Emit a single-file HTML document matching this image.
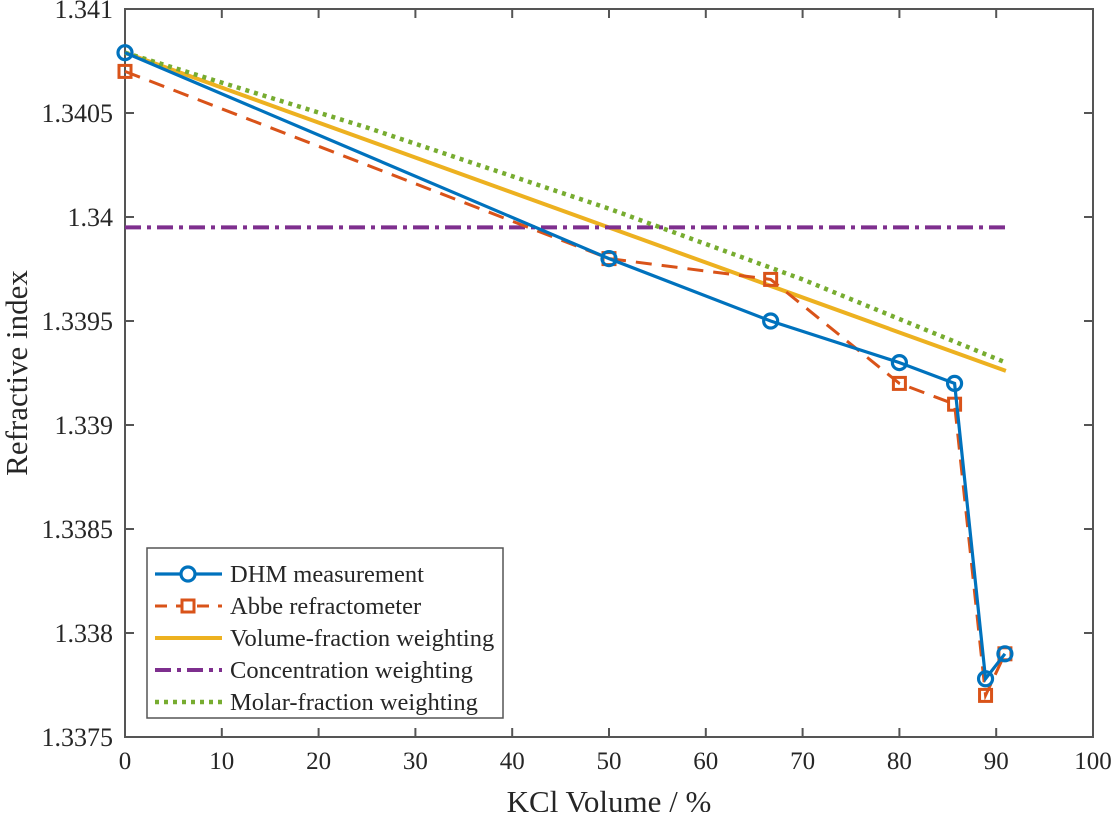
<!DOCTYPE html>
<html><head><meta charset="utf-8"><style>
body{margin:0;background:#fff;}
text{font-family:"Liberation Serif",serif;fill:#262626;}
</style></head><body>
<svg id="chart" width="1114" height="812">
<rect x="0" y="0" width="1114" height="812" fill="#fff"/>
<g id="grid"></g>
<g id="series"></g>
<g id="legend"></g>
</svg>
<script>
const xTicks=[0,10,20,30,40,50,60,70,80,90,100];
const yTicks=[1.3375,1.338,1.3385,1.339,1.3395,1.34,1.3405,1.341];
const yTickLabels=["1.3375","1.338","1.3385","1.339","1.3395","1.34","1.3405","1.341"];
const dhmX=[0,50,66.7,80,85.7,88.9,90.9];
const dhmY=[1.34079,1.3398,1.3395,1.3393,1.3392,1.33778,1.3379];
const abbeX=[0,50,66.7,80,85.7,88.9,90.9];
const abbeY=[1.3407,1.3398,1.3397,1.3392,1.3391,1.3377,1.3379];
const volX=[0,91];
const volY=[1.34079,1.33926];
const concX=[0,91];
const concY=[1.33995,1.33995];
const molX=[0,25,50,70,91];
const molY=[1.34079,1.34043,1.34004,1.3397,1.3393];

const L=125,R=1093,T=9,B=737;
const xs=v=>L+(v-0)/100*(R-L);
const ys=v=>B-(v-1.3375)/0.0035*(B-T);
const NS="http://www.w3.org/2000/svg";
function mk(tag,attrs,parent){const e=document.createElementNS(NS,tag);for(const k in attrs)e.setAttribute(k,attrs[k]);parent.appendChild(e);return e;}
const grid=document.getElementById('grid');
const ser=document.getElementById('series');
const leg=document.getElementById('legend');

const box=mk('rect',{x:L,y:T,width:R-L,height:B-T,fill:'none',stroke:'#555','stroke-width':2},grid);


xTicks.forEach(v=>{
  const x=xs(v);
  mk('line',{x1:x,x2:x,y1:B,y2:B-9,stroke:'#555','stroke-width':2},grid);
  mk('line',{x1:x,x2:x,y1:T,y2:T+9,stroke:'#555','stroke-width':2},grid);
  const t=mk('text',{x:x,y:B+32,'text-anchor':'middle','font-size':25},grid);
  t.textContent=v;
  
  
});
yTicks.forEach((v,i)=>{
  const y=ys(v);
  mk('line',{x1:L,x2:L+9,y1:y,y2:y,stroke:'#555','stroke-width':2},grid);
  mk('line',{x1:R,x2:R-9,y1:y,y2:y,stroke:'#555','stroke-width':2},grid);
  const t=mk('text',{x:L-12,y:y+9,'text-anchor':'end','font-size':26},grid);
  t.textContent=yTickLabels[i];
  
  
});
const xt=mk('text',{x:(L+R)/2,y:812,'text-anchor':'middle','font-size':31},grid);
xt.textContent='KCl Volume / %';


const yt=mk('text',{x:0,y:0,'text-anchor':'middle','font-size':31,transform:'translate(27,373) rotate(-90)'},grid);
yt.textContent='Refractive index';



function pts(X,Y){return X.map((x,i)=>xs(x)+','+ys(Y[i])).join(' ');}
const lVol=mk('polyline',{points:pts(volX,volY),fill:'none',stroke:'#EDB120','stroke-width':4},ser);


const lConc=mk('polyline',{points:pts(concX,concY),fill:'none',stroke:'#7E2F8E','stroke-width':4,'stroke-dasharray':'16,6,4,6'},ser);


const lMol=mk('polyline',{points:pts(molX,molY),fill:'none',stroke:'#77AC30','stroke-width':4.5,'stroke-dasharray':'4,5'},ser);


const lAbbe=mk('polyline',{points:pts(abbeX,abbeY),fill:'none',stroke:'#D95319','stroke-width':3,'stroke-dasharray':'16,10'},ser);


abbeX.forEach((x,i)=>{
  const r=mk('rect',{x:xs(x)-6,y:ys(abbeY[i])-6,width:12,height:12,fill:'none',stroke:'#D95319','stroke-width':3},ser);
  
  
});
const lDhm=mk('polyline',{points:pts(dhmX,dhmY),fill:'none',stroke:'#0072BD','stroke-width':3.2},ser);


dhmX.forEach((x,i)=>{
  const c=mk('circle',{cx:xs(x),cy:ys(dhmY[i]),r:7,fill:'none',stroke:'#0072BD','stroke-width':3.2},ser);
  
  
});

const lb=mk('rect',{x:147,y:548,width:356,height:170,fill:'#fff',stroke:'#555','stroke-width':1.5},leg);


const entries=[
 ['DHM measurement','#0072BD','',3.2,'circle'],
 ['Abbe refractometer','#D95319','12,9',3,'square'],
 ['Volume-fraction weighting','#EDB120','',4,''],
 ['Concentration weighting','#7E2F8E','16,6,4,6',4,''],
 ['Molar-fraction weighting','#77AC30','4,5',4.5,'']
];
entries.forEach((e,i)=>{
  const y=574+i*32;
  const g=mk('g',{},leg);
  
  
  mk('line',{x1:155,x2:222,y1:y,y2:y,stroke:e[1],'stroke-width':e[3],'stroke-dasharray':e[2]||'none'},g);
  if(e[4]==='circle')mk('circle',{cx:188,cy:y,r:7,fill:'#fff',stroke:e[1],'stroke-width':3.2},g);
  if(e[4]==='square')mk('rect',{x:182,y:y-6,width:12,height:12,fill:'#fff',stroke:e[1],'stroke-width':3},g);
  const t=mk('text',{x:230,y:y+8,'font-size':24.5},g);
  t.textContent=e[0];
});
</script>
</body></html>
